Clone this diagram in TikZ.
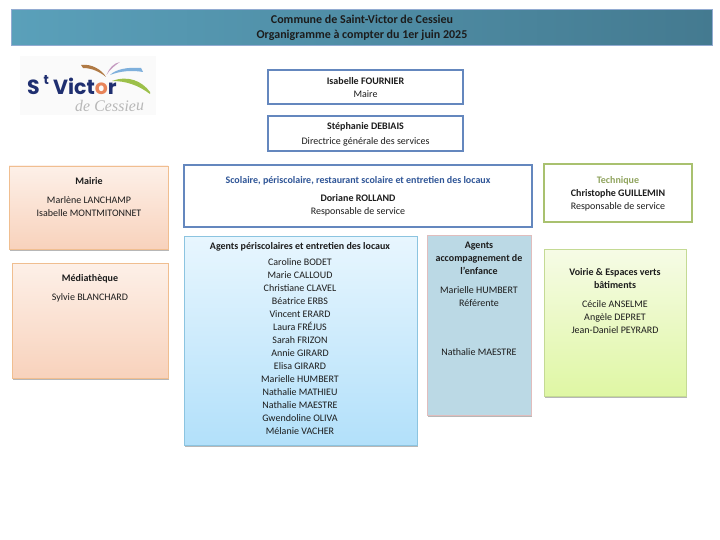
\documentclass[tikz,border=0pt]{standalone}
\usepackage{fontspec}
\setmainfont{Carlito}
\newfontfamily\logofont{Poppins}
\newfontfamily\cursivefont{Liberation Serif}
\usetikzlibrary{shadows}
\definecolor{txtcol}{HTML}{1C1C1C}
\definecolor{bluelin}{HTML}{6487BE}
\definecolor{scolblue}{HTML}{2F5597}
\definecolor{orangelin}{HTML}{F0BE90}
\definecolor{orangetop}{HTML}{FDF0E8}
\definecolor{orangebot}{HTML}{F8D2BC}
\definecolor{skytop}{HTML}{E8F6FE}
\definecolor{skybot}{HTML}{B2E0FA}
\definecolor{skylin}{HTML}{8CC4E0}
\definecolor{paleteal}{HTML}{BBD9E5}
\definecolor{pinklin}{HTML}{E0BDBD}
\definecolor{greenlin}{HTML}{A9C16F}
\definecolor{limetop}{HTML}{F6FBE6}
\definecolor{limebot}{HTML}{DFF7A4}
\definecolor{limelin}{HTML}{C4DA94}
\definecolor{headleft}{HTML}{5AA0BA}
\definecolor{headright}{HTML}{447A90}
\definecolor{logoblue}{HTML}{1F2F70}
\definecolor{logobrown}{HTML}{B07A45}
\definecolor{logopink}{HTML}{C49AC0}
\definecolor{logosky}{HTML}{7FB0DC}
\definecolor{logogreen}{HTML}{9CC04A}
\definecolor{logoring}{HTML}{E8845A}
\tikzset{
  softshadow/.style={drop shadow={shadow xshift=0.5pt,shadow yshift=-1.5pt,opacity=0.4,fill=black!70}},
  namestext/.style={anchor=north,align=center,text=txtcol,inner sep=0pt,
    font=\fontsize{10}{13}\selectfont},
  linebox/.style={draw=bluelin,line width=1.5pt,fill=white},
  orangebox/.style={draw=orangelin,line width=0.8pt,top color=orangetop,bottom color=orangebot,softshadow},
  skybox/.style={draw=skylin,line width=0.8pt,top color=skytop,bottom color=skybot,softshadow},
  tealbox/.style={draw=pinklin,line width=0.8pt,fill=paleteal,softshadow},
  limebox/.style={draw=limelin,line width=0.8pt,top color=limetop,bottom color=limebot,softshadow},
  logotext/.style={inner sep=0pt,anchor=base west,text=logoblue},
}
\begin{document}
\begin{tikzpicture}[x=1pt,y=-1pt]
        \useasboundingbox (0, 0) rectangle (720, 540);
        % bandeau
        \draw[draw=bluelin!70,line width=0.6pt,left color=headleft,right color=headright,softshadow]
            (11, 9.5) rectangle (712, 45);
        \node[namestext,font=\bfseries\fontsize{12}{15}\selectfont] (titre) at (362, 15) {Commune de Saint-Victor de Cessieu\\Organigramme à compter du 1er juin 2025};
        % logo
        \fill[black!2] (20, 56) rectangle (156, 115);
        \fill[logobrown] (81, 65) .. controls (92, 63.5) and (102, 70) .. (106, 77) .. controls (100, 72) and (92, 68) .. (83, 68) -- cycle;
        \fill[logopink] (120, 62) .. controls (114, 63) and (109, 68) .. (106.5, 75) .. controls (110, 69) and (115, 65.5) .. (120, 62) -- cycle;
        \fill[logosky] (143, 72) -- (141, 68) .. controls (128, 67) and (116, 69) .. (110, 75) .. controls (120, 71) and (132, 70) .. (143, 72) -- cycle;
        \fill[logogreen] (112, 81) .. controls (128, 75) and (142, 81) .. (150, 92) -- (150, 94) .. controls (138, 85) and (126, 81) .. (112, 81) -- cycle;
        \node[logotext,font=\logofont\bfseries\fontsize{20.5}{20.5}\selectfont] (logoS) at (27, 95) {S};
        \node[logotext,font=\logofont\bfseries\fontsize{13}{13}\selectfont] (logot) at (43.5, 85) {t};
        \node[logotext,font=\logofont\bfseries\fontsize{20.5}{20.5}\selectfont] (logoV) at (53, 95) {Vict\textcolor{logoring}{o}r};
        \node[logotext,text=black!28,rotate=1,font=\cursivefont\itshape\fontsize{16}{16}\selectfont] (logoC) at (75, 112) {de Cessieu};
        % haut
        \draw[linebox] (268, 70) rectangle (463, 104);
        \node[namestext] (maire) at (365.5, 77) {\textbf{Isabelle FOURNIER}\\Maire};
        \draw[linebox] (268, 116) rectangle (463, 151);
        \node[namestext] (dgs) at (365.5, 122.5) {\textbf{Stéphanie DEBIAIS}\\[2pt]Directrice générale des services};
        % gauche
        \draw[orangebox] (9, 166) rectangle (168, 249);
        \node[namestext] (mairie) at (89, 177.5) {\textbf{Mairie}\\[6pt]Marlène LANCHAMP\\Isabelle MONTMITONNET};
        \draw[orangebox] (12, 263) rectangle (168, 378);
        \node[namestext] (media) at (90, 274.5) {\textbf{Médiathèque}\\[6pt]Sylvie BLANCHARD};
        % scolaire
        \draw[linebox] (184, 165) rectangle (532, 227);
        \node[namestext] (scolaire) at (358, 176) {\textcolor{scolblue}{\textbf{Scolaire, périscolaire, restaurant scolaire et entretien des locaux}}\\[5pt]\textbf{Doriane ROLLAND}\\Responsable de service};
        \draw[skybox] (184, 236) rectangle (417, 445);
        \node[namestext] (agents) at (300, 242) {\textbf{Agents périscolaires et entretien des locaux}\\[3pt]Caroline BODET\\Marie CALLOUD\\Christiane CLAVEL\\Béatrice ERBS\\Vincent ERARD\\Laura FRÉJUS\\Sarah FRIZON\\Annie GIRARD\\Elisa GIRARD\\Marielle HUMBERT\\Nathalie MATHIEU\\Nathalie MAESTRE\\Gwendoline OLIVA\\Mélanie VACHER};
        \draw[tealbox] (427, 235) rectangle (531, 415);
        \node[namestext] (accomp) at (479, 242) {\textbf{Agents}\\\textbf{accompagnement de}\\\textbf{l’enfance}\\[6pt]Marielle HUMBERT\\Référente\\[36pt]Nathalie MAESTRE};
        % technique
        \draw[draw=greenlin,line width=1.5pt,fill=white] (544, 164) rectangle (692, 222);
        \node[namestext] (technique) at (618, 176) {\textcolor{greenlin!85!black}{\textbf{Technique}}\\\textbf{Christophe GUILLEMIN}\\Responsable de service};
        \draw[limebox] (544, 249) rectangle (686, 396);
        \node[namestext] (voirie) at (615, 268) {\textbf{Voirie \& Espaces verts}\\\textbf{bâtiments}\\[6pt]Cécile ANSELME\\Angèle DEPRET\\Jean-Daniel PEYRARD};
    \end{tikzpicture}
\end{document}
